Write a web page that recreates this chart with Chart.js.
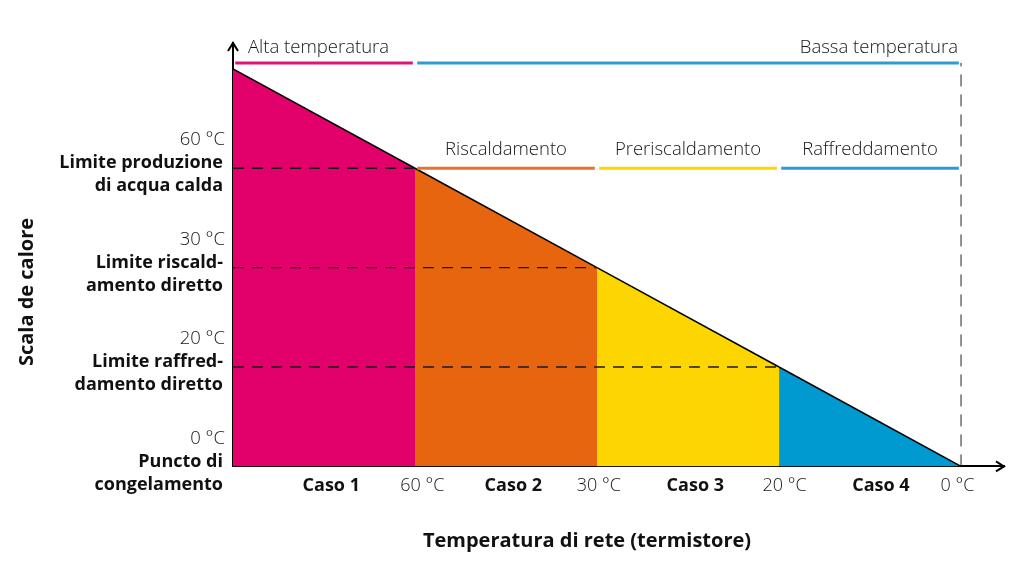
<!DOCTYPE html>
<html><head><meta charset="utf-8">
<script src="https://cdn.jsdelivr.net/npm/chart.js@4"></script>
<style>html,body{margin:0;padding:0;background:#fff}#wrap{width:1024px;height:576px;position:relative}</style>
</head><body><div id="wrap"><canvas id="c"></canvas></div>
<script>
// ---- data ----
const segX = [0, 1, 2, 3, 4];
const heatLevel = [4, 3, 2, 1, 0];
const segColors = ['#E2006A', '#E8650F', '#FDD500', '#009AD0'];
const xTickPos = [0.54, 1.04, 1.54, 2.01, 2.54, 3.03, 3.56, 3.98];
const xTickLabels = ['Caso 1', '60 °C', 'Caso 2', '30 °C', 'Caso 3', '20 °C', 'Caso 4', '0 °C'];
const yLevels = [3, 2, 1, 0];
const yTemp = ['60 °C', '30 °C', '20 °C', '0 °C'];
const yLimit1 = ['Limite produzione', 'Limite riscald-', 'Limite raffred-', 'Puncto di'];
const yLimit2 = ['di acqua calda', 'amento diretto', 'damento diretto', 'congelamento'];
const bandLabels = ['Riscaldamento', 'Preriscaldamento', 'Raffreddamento'];
const bandStart = [1, 2, 3];
const bandEnd = [2, 3, 4];
const bandColors = ['#E8732D', '#FDD500', '#2A9BD6'];
const topLabels = ['Alta temperatura', 'Bassa temperatura'];
const topStart = [0, 1];
const topEnd = [1, 4];
const topColors = ['#E0157A', '#2E9BD6'];
const topLevel = 4.06;
const xTitle = 'Temperatura di rete (termistore)';
const yTitle = 'Scala de calore';

const FONT = "'Open Sans', 'Noto Sans', sans-serif";
const LIGHT = '#161616';
const GAP = 0.012;

const datasets = [];
// dashed limit lines
for (let i = 1; i <= 3; i++) {
  datasets.push({
    data: [{x: 0, y: heatLevel[i]}, {x: segX[i], y: heatLevel[i]}],
    borderColor: '#1a1a1a', borderWidth: 1.4, borderDash: [11, 8],
    pointRadius: 0, fill: false, order: 0
  });
}
// vertical dashed line at 0 °C
datasets.push({
  data: [{x: segX[4], y: 0}, {x: segX[4], y: topLevel}],
  borderColor: '#222', borderWidth: 1, borderDash: [12, 8],
  pointRadius: 0, fill: false, order: 0
});
// top band lines
for (let i = 0; i < topStart.length; i++) {
  datasets.push({
    data: [{x: topStart[i] + GAP, y: topLevel}, {x: topEnd[i] - GAP, y: topLevel}],
    borderColor: topColors[i], borderWidth: 3, pointRadius: 0, fill: false, order: 0
  });
}
// mode band lines
for (let i = 0; i < bandStart.length; i++) {
  datasets.push({
    data: [{x: bandStart[i] + GAP, y: heatLevel[1]}, {x: bandEnd[i] - GAP, y: heatLevel[1]}],
    borderColor: bandColors[i], borderWidth: 3, pointRadius: 0, fill: false, order: 0
  });
}
// filled segments under the diagonal
for (let i = 0; i < 4; i++) {
  datasets.push({
    data: [{x: segX[i], y: heatLevel[i]}, {x: segX[i + 1], y: heatLevel[i + 1]}],
    borderColor: '#000', borderWidth: 1.5, backgroundColor: segColors[i],
    fill: 'origin', pointRadius: 0, tension: 0, order: 5
  });
}

const textPlugin = {
  id: 'texts',
  afterDraw(chart) {
    const ctx = chart.ctx;
    const xs = chart.scales.x, ys = chart.scales.y;
    const ca = chart.chartArea;
    ctx.save();
    // arrows
    ctx.strokeStyle = '#000'; ctx.lineWidth = 2; ctx.lineJoin = 'miter';
    ctx.beginPath();
    ctx.moveTo(ca.right - 8, ca.bottom - 5); ctx.lineTo(ca.right, ca.bottom); ctx.lineTo(ca.right - 8, ca.bottom + 5);
    ctx.moveTo(ca.left - 5, ca.top + 8); ctx.lineTo(ca.left, ca.top); ctx.lineTo(ca.left + 5, ca.top + 8);
    ctx.stroke();

    // y labels
    ctx.textAlign = 'right'; ctx.textBaseline = 'middle';
    const lx = ca.left - 10;
    yLevels.forEach((lv, i) => {
      const py = ys.getPixelForValue(lv);
      ctx.fillStyle = LIGHT;
      ctx.font = '300 18.5px ' + FONT;
      ctx.fillText(yTemp[i], lx + 2, py - 28);
      ctx.fillStyle = '#111';
      ctx.font = 'bold 18px ' + FONT;
      ctx.fillText(yLimit1[i], lx, py - 5);
      ctx.fillText(yLimit2[i], lx, py + 18);
    });

    // top labels
    ctx.fillStyle = LIGHT;
    ctx.font = '300 18.5px ' + FONT;
    const ty = ys.getPixelForValue(topLevel) - 15;
    ctx.textAlign = 'left';
    ctx.fillText(topLabels[0], xs.getPixelForValue(topStart[0]) + 15, ty);
    ctx.textAlign = 'right';
    ctx.fillText(topLabels[1], xs.getPixelForValue(topEnd[1]) - 3, ty);

    // band labels
    ctx.textAlign = 'center';
    const by = ys.getPixelForValue(heatLevel[1]) - 18;
    bandLabels.forEach((t, i) => {
      const cx = (xs.getPixelForValue(bandStart[i]) + xs.getPixelForValue(bandEnd[i])) / 2;
      ctx.fillText(t, cx, by);
    });

    // axis titles
    ctx.fillStyle = '#111';
    ctx.font = 'bold 20px ' + FONT;
    ctx.textAlign = 'center';
    ctx.fillText(xTitle, (xs.getPixelForValue(0) + xs.getPixelForValue(4)) / 2 - 10, 541);
    ctx.translate(27, 292);
    ctx.rotate(-Math.PI / 2);
    ctx.fillText(yTitle, 0, 0);
    ctx.restore();
  }
};

new Chart(document.getElementById('c'), {
  type: 'line',
  data: { datasets },
  options: {
    responsive: true, maintainAspectRatio: false, animation: false,
    layout: { padding: { left: 233, top: 43, right: 20, bottom: 70 } },
    plugins: { legend: { display: false }, tooltip: { enabled: false } },
    scales: {
      x: {
        type: 'linear', min: 0, max: 4.236,
        grid: { display: false, drawTicks: false },
        border: { display: true, color: '#000', width: 2 },
        afterBuildTicks: (axis) => { axis.ticks = xTickPos.map(v => ({ value: v })); },
        ticks: {
          autoSkip: false, maxRotation: 0, padding: 9,
          callback: (v, i) => xTickLabels[i],
          font: (c) => ({ family: FONT, size: 18, weight: (xTickLabels[c.index] || '').startsWith('Caso') ? 'bold' : '300' }),
          color: (c) => (xTickLabels[c.index] || '').startsWith('Caso') ? '#111' : LIGHT
        }
      },
      y: {
        type: 'linear', min: 0, max: 4.26,
        grid: { display: false, drawTicks: false },
        border: { display: true, color: '#000', width: 2 },
        ticks: { display: false }
      }
    }
  },
  plugins: [textPlugin]
});
</script>
</body></html>
